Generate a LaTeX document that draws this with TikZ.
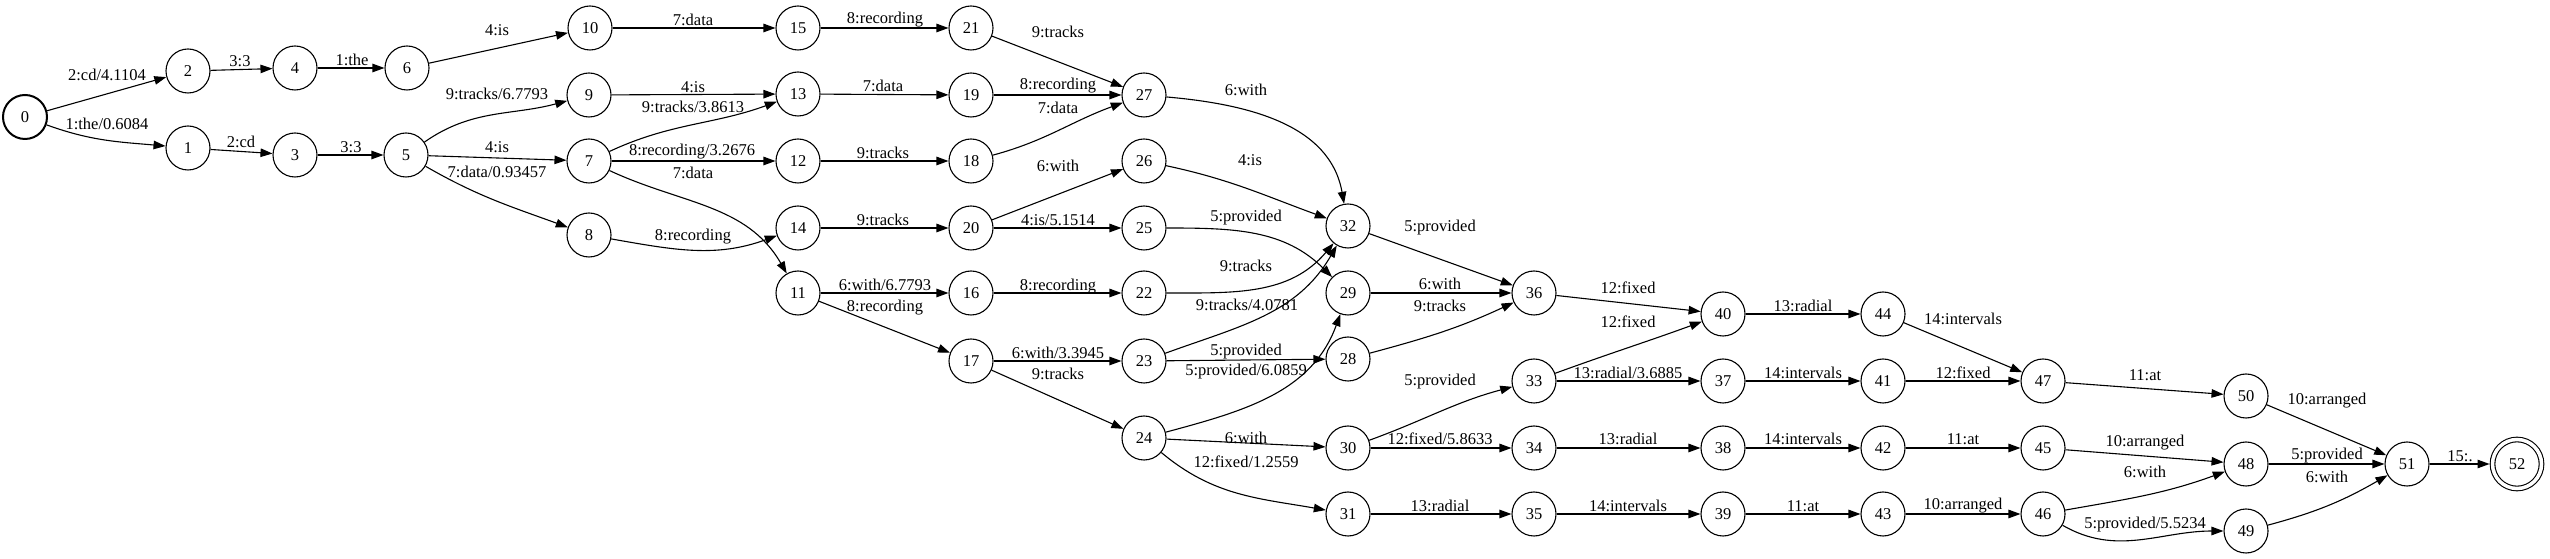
\documentclass[tikz,border=0pt]{standalone}
\usepackage{fontspec}
\setmainfont{Liberation Serif}
\usetikzlibrary{arrows.meta}
\begin{document}
\begin{tikzpicture}[x=1pt,y=1pt,>={Triangle[length=12pt,width=8.5pt]},line width=1.1pt,
        font=\fontsize{16.5}{18}\selectfont,
        st/.style={circle,draw,minimum size=44pt,inner sep=0pt},
        lbl/.style={inner sep=0pt}]
        \useasboundingbox (0,0) rectangle (2550,559);
        % states
        \node[st,line width=2pt] (n0) at (25,442) {0};
        \node[st] (n1) at (188,411) {1};
        \node[st] (n2) at (188,488) {2};
        \node[st] (n3) at (295,404) {3};
        \node[st] (n4) at (295,491) {4};
        \node[st] (n5) at (406,404) {5};
        \node[st] (n6) at (407,491) {6};
        \node[st] (n7) at (589,398) {7};
        \node[st] (n8) at (589,324) {8};
        \node[st] (n9) at (589,464) {9};
        \node[st] (n10) at (590,531) {10};
        \node[st] (n11) at (798,266) {11};
        \node[st] (n12) at (798,398) {12};
        \node[st] (n13) at (798,465) {13};
        \node[st] (n14) at (798,331) {14};
        \node[st] (n15) at (798,531) {15};
        \node[st] (n16) at (971,266) {16};
        \node[st] (n17) at (971,198) {17};
        \node[st] (n18) at (971,398) {18};
        \node[st] (n19) at (971,464) {19};
        \node[st] (n20) at (971,331) {20};
        \node[st] (n21) at (971,531) {21};
        \node[st] (n22) at (1144,266) {22};
        \node[st] (n23) at (1144,198) {23};
        \node[st] (n24) at (1144,121) {24};
        \node[st] (n25) at (1144,331) {25};
        \node[st] (n26) at (1144,398) {26};
        \node[st] (n27) at (1144,464) {27};
        \node[st] (n28) at (1348,200) {28};
        \node[st] (n29) at (1348,266) {29};
        \node[st] (n30) at (1348,111) {30};
        \node[st] (n31) at (1348,45) {31};
        \node[st] (n32) at (1348,333) {32};
        \node[st] (n33) at (1534,178) {33};
        \node[st] (n34) at (1534,111) {34};
        \node[st] (n35) at (1534,45) {35};
        \node[st] (n36) at (1534,266) {36};
        \node[st] (n37) at (1723,178) {37};
        \node[st] (n38) at (1723,111) {38};
        \node[st] (n39) at (1723,45) {39};
        \node[st] (n40) at (1723,245) {40};
        \node[st] (n41) at (1883,178) {41};
        \node[st] (n42) at (1883,111) {42};
        \node[st] (n43) at (1883,45) {43};
        \node[st] (n44) at (1883,245) {44};
        \node[st] (n45) at (2043,111) {45};
        \node[st] (n46) at (2043,45) {46};
        \node[st] (n47) at (2043,178) {47};
        \node[st] (n48) at (2246,95) {48};
        \node[st] (n49) at (2246,28) {49};
        \node[st] (n50) at (2246,163) {50};
        \node[st] (n51) at (2407,95) {51};
        \node[st,double,double distance=3.5pt,minimum size=49pt,outer sep=3pt] (n52) at (2517,95) {52};
        % arcs
        \draw[->](n0)--(n2)node[lbl] at (107,484){2:cd/4.1104};
        \draw[->](n0)to[out=-20,in=175](n1)node[lbl] at (107,435){1:the/0.6084};
        \draw[->](n2)--(n4)node[lbl] at (240,498){3:3};
        \draw[->](n4)--(n6)node[lbl] at (352,499){1:the};
        \draw[->](n1)--(n3)node[lbl] at (241,417){2:cd};
        \draw[->](n3)--(n5)node[lbl] at (351,412){3:3};
        \draw[->](n6)--(n10)node[lbl] at (497,529){4:is};
        \draw[->](n5)to[out=35,in=195](n9)node[lbl] at (497,465){9:tracks/6.7793};
        \draw[->](n5)--(n7)node[lbl] at (497,412){4:is};
        \draw[->](n5)to[out=-30,in=160](n8)node[lbl] at (497,387){7:data/0.93457};
        \draw[->](n10)--(n15)node[lbl] at (693,539){7:data};
        \draw[->](n9)--(n13)node[lbl] at (693,472){4:is};
        \draw[->](n7)to[out=25,in=200](n13)node[lbl] at (693,452){9:tracks/3.8613};
        \draw[->](n7)--(n12)node[lbl] at (692,407){8:recording/3.2676};
        \draw[->](n7)to[out=-25,in=120](n11)node[lbl] at (693,386){7:data};
        \draw[->](n8)to[out=-10,in=200](n14)node[lbl] at (693,322){8:recording};
        \draw[->](n15)--(n21)node[lbl] at (885,539){8:recording};
        \draw[->](n13)--(n19)node[lbl] at (883,473){7:data};
        \draw[->](n12)--(n18)node[lbl] at (883,406){9:tracks};
        \draw[->](n14)--(n20)node[lbl] at (883,339){9:tracks};
        \draw[->](n11)--(n16)node[lbl] at (885,274){6:with/6.7793};
        \draw[->](n11)--(n17)node[lbl] at (885,251){8:recording};
        \draw[->](n21)--(n27)node[lbl] at (1058,527){9:tracks};
        \draw[->](n19)--(n27)node[lbl] at (1058,473){8:recording};
        \draw[->](n18)to[out=15,in=200](n27)node[lbl] at (1058,451){7:data};
        \draw[->](n20)--(n26)node[lbl] at (1058,393){6:with};
        \draw[->](n20)--(n25)node[lbl] at (1058,339){4:is/5.1514};
        \draw[->](n16)--(n22)node[lbl] at (1058,272){8:recording};
        \draw[->](n17)--(n23)node[lbl] at (1058,206){6:with/3.3945};
        \draw[->](n17)--(n24)node[lbl] at (1058,185){9:tracks};
        \draw[->](n27)to[out=-5,in=100](n32)node[lbl] at (1246,469){6:with};
        \draw[->](n26)to[out=-12,in=160](n32)node[lbl] at (1250,399){4:is};
        \draw[->](n25)to[out=0,in=135](n29)node[lbl] at (1246,341){5:provided};
        \draw[->](n22)to[out=0,in=230](n32)node[lbl] at (1246,293){9:tracks};
        \draw[->](n23)to[out=20,in=240](n32)node[lbl] at (1247,254){9:tracks/4.0781};
        \draw[->](n23)--(n28)node[lbl] at (1246,207){5:provided};
        \draw[->](n24)to[out=15,in=250](n29)node[lbl] at (1246,187){5:provided/6.0859};
        \draw[->](n24)--(n30)node[lbl] at (1246,121){6:with};
        \draw[->](n24)to[out=-40,in=170](n31)node[lbl] at (1246,97){12:fixed/1.2559};
        \draw[->](n32)--(n36)node[lbl] at (1440,331){5:provided};
        \draw[->](n29)--(n36)node[lbl] at (1440,275){6:with};
        \draw[->](n28)to[out=15,in=205](n36)node[lbl] at (1440,253){9:tracks};
        \draw[->](n36)--(n40)node[lbl] at (1628,271){12:fixed};
        \draw[->](n33)to[out=20,in=200](n40)node[lbl] at (1628,237){12:fixed};
        \draw[->](n33)--(n37)node[lbl] at (1628,186){13:radial/3.6885};
        \draw[->](n30)to[out=20,in=195](n33)node[lbl] at (1440,177){5:provided};
        \draw[->](n30)--(n34)node[lbl] at (1440,120){12:fixed/5.8633};
        \draw[->](n34)--(n38)node[lbl] at (1628,120){13:radial};
        \draw[->](n31)--(n35)node[lbl] at (1440,53){13:radial};
        \draw[->](n35)--(n39)node[lbl] at (1628,53){14:intervals};
        \draw[->](n40)--(n44)node[lbl] at (1803,253){13:radial};
        \draw[->](n44)--(n47)node[lbl] at (1963,240){14:intervals};
        \draw[->](n37)--(n41)node[lbl] at (1803,186){14:intervals};
        \draw[->](n41)--(n47)node[lbl] at (1963,186){12:fixed};
        \draw[->](n38)--(n42)node[lbl] at (1803,120){14:intervals};
        \draw[->](n42)--(n45)node[lbl] at (1963,120){11:at};
        \draw[->](n39)--(n43)node[lbl] at (1803,53){11:at};
        \draw[->](n43)--(n46)node[lbl] at (1963,53){10:arranged};
        \draw[->](n47)--(n50)node[lbl] at (2145,184){11:at};
        \draw[->](n45)--(n48)node[lbl] at (2145,116){10:arranged};
        \draw[->](n46)to[out=10,in=200](n48)node[lbl] at (2145,87){6:with};
        \draw[->](n46)to[out=-30,in=180](n49)node[lbl] at (2145,34){5:provided/5.5234};
        \draw[->](n50)--(n51)node[lbl] at (2327,158){10:arranged};
        \draw[->](n48)--(n51)node[lbl] at (2327,103){5:provided};
        \draw[->](n49)to[out=15,in=210](n51)node[lbl] at (2327,82){6:with};
        \draw[->](n51)--(n52)node[lbl] at (2460,103){15:.};
    \end{tikzpicture}
\end{document}
